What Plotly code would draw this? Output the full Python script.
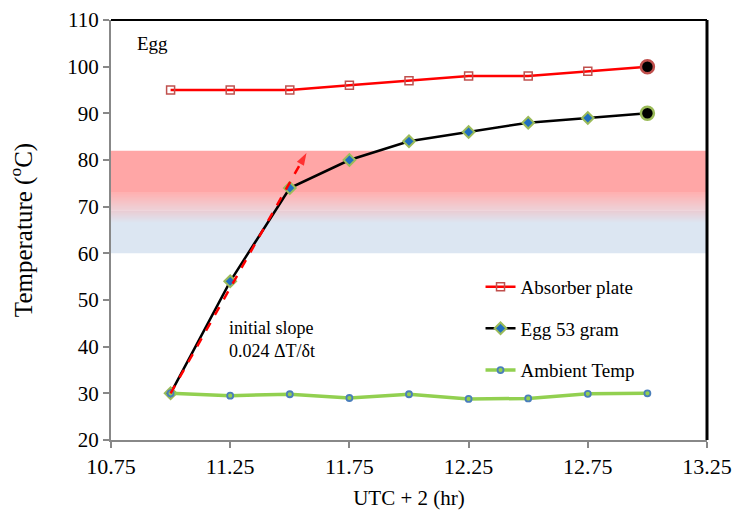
import plotly.graph_objects as go
import numpy as np

time_hr = [11.0, 11.25, 11.5, 11.75, 12.0, 12.25, 12.5, 12.75, 13.0]
absorber = [95, 95, 95, 96, 97, 98, 98, 99, 100]
egg = [30, 54, 74, 80, 84, 86, 88, 89, 90]
ambient = [30, 29.5, 29.8, 29, 29.8, 28.8, 28.9, 29.9, 30]
slope_x = [11.0, 11.57]
slope_y = [30, 81.5]
band_low, band_mid_lo, band_mid_hi, band_high = 60, 66.5, 73, 82

FONT = "Times New Roman, Liberation Serif, DejaVu Serif, serif"
fig = go.Figure()

def mix(c1, c2, t):
    return "rgb(%d,%d,%d)" % tuple(round(a + (b - a) * t) for a, b in zip(c1, c2))
blue = (220, 230, 242)
red = (255, 166, 166)
fig.add_shape(type="rect", xref="paper", yref="y", x0=0, x1=1, y0=band_low, y1=band_mid_lo + 0.05,
              fillcolor=mix(blue, blue, 0), line_width=0, layer="below")
n = 30
edges = np.linspace(band_mid_lo, band_mid_hi, n + 1)
for i in range(n):
    fig.add_shape(type="rect", xref="paper", yref="y", x0=0, x1=1, y0=edges[i], y1=edges[i + 1] + 0.05,
                  fillcolor=mix(blue, red, (i + 0.5) / n), line_width=0, layer="below")
fig.add_shape(type="rect", xref="paper", yref="y", x0=0, x1=1, y0=band_mid_hi, y1=band_high,
              fillcolor=mix(red, red, 0), line_width=0, layer="below")

fig.add_trace(go.Scatter(x=time_hr, y=absorber, mode="lines+markers", name="Absorber plate",
                         line=dict(color="#ff0000", width=2.5),
                         marker=dict(symbol="square-open", size=8, color="#c0504d", line=dict(width=1.5)),
                         legendgroup="a"))
fig.add_trace(go.Scatter(x=time_hr, y=egg, mode="lines+markers", name="Egg 53 gram",
                         line=dict(color="#000000", width=2.5),
                         marker=dict(symbol="diamond", size=9, color="#1f6fc0", line=dict(color="#9bbb59", width=2)),
                         legendgroup="b"))
fig.add_trace(go.Scatter(x=time_hr, y=ambient, mode="lines+markers", name="Ambient Temp",
                         line=dict(color="#92d050", width=3.5),
                         marker=dict(symbol="circle", size=6, color="#92d050", line=dict(color="#4a7ebb", width=1.8)),
                         legendgroup="c"))
fig.add_trace(go.Scatter(x=[time_hr[-1]], y=[absorber[-1]], mode="markers", showlegend=False,
                         marker=dict(size=13, color="black", line=dict(color="#c0504d", width=2.5))))
fig.add_trace(go.Scatter(x=[time_hr[-1]], y=[egg[-1]], mode="markers", showlegend=False,
                         marker=dict(size=13, color="black", line=dict(color="#9bbb59", width=2.5))))

fig.add_trace(go.Scatter(x=slope_x, y=slope_y, mode="lines+markers", showlegend=False,
                         line=dict(color="#ff0000", width=2.5, dash="dash"),
                         marker=dict(symbol=["circle", "arrow"], size=[0, 13], color="#ff0000",
                                     angleref="previous", line=dict(width=0))))

fig.add_annotation(x=0.04, y=0.975, xref="paper", yref="paper", text="Egg", showarrow=False,
                   xanchor="left", yanchor="top", font=dict(family=FONT, size=19, color="black"))
fig.add_annotation(x=11.235, y=41.5, xref="x", yref="y", text="initial slope<br>0.024 \u0394T/\u03b4t",
                   showarrow=False, xanchor="left", align="left",
                   font=dict(family=FONT, size=18, color="black"))

fig.add_shape(type="line", xref="paper", yref="paper", x0=0, x1=1, y0=1, y1=1, line=dict(color="black", width=2))
fig.add_shape(type="line", xref="paper", yref="paper", x0=1, x1=1, y0=0, y1=1, line=dict(color="black", width=3))

fig.update_xaxes(range=[10.75, 13.25], tickvals=[10.75, 11.25, 11.75, 12.25, 12.75, 13.25],
                 ticktext=["10.75", "11.25", "11.75", "12.25", "12.75", "13.25"],
                 showgrid=False, zeroline=False, showline=True, linecolor="#888888", linewidth=2,
                 ticks="outside", ticklen=6, tickcolor="#888888", tickwidth=1.5, automargin=False,
                 title=dict(text="UTC + 2 (hr)", font=dict(family=FONT, size=21, color="black"), standoff=12),
                 tickfont=dict(family=FONT, size=22, color="black"))
fig.update_yaxes(range=[20, 110], dtick=10, showgrid=False, zeroline=False, showline=True,
                 linecolor="#888888", linewidth=2, ticks="outside", ticklen=6, tickcolor="#888888", tickwidth=1.5,
                 automargin=False,
                 title=dict(text="Temperature (<sup>o</sup>C)", font=dict(family=FONT, size=25, color="black"), standoff=28),
                 tickfont=dict(family=FONT, size=21, color="black"))

fig.update_layout(width=736, height=516, margin=dict(l=111, r=29, t=20, b=76),
                  plot_bgcolor="white", paper_bgcolor="white",
                  legend=dict(x=0.62, y=0.41, xanchor="left", yanchor="top", bgcolor="rgba(0,0,0,0)",
                              font=dict(family=FONT, size=19, color="black"), tracegroupgap=14,
                              itemwidth=30),
                  showlegend=True)

fig.write_html("out.html")
